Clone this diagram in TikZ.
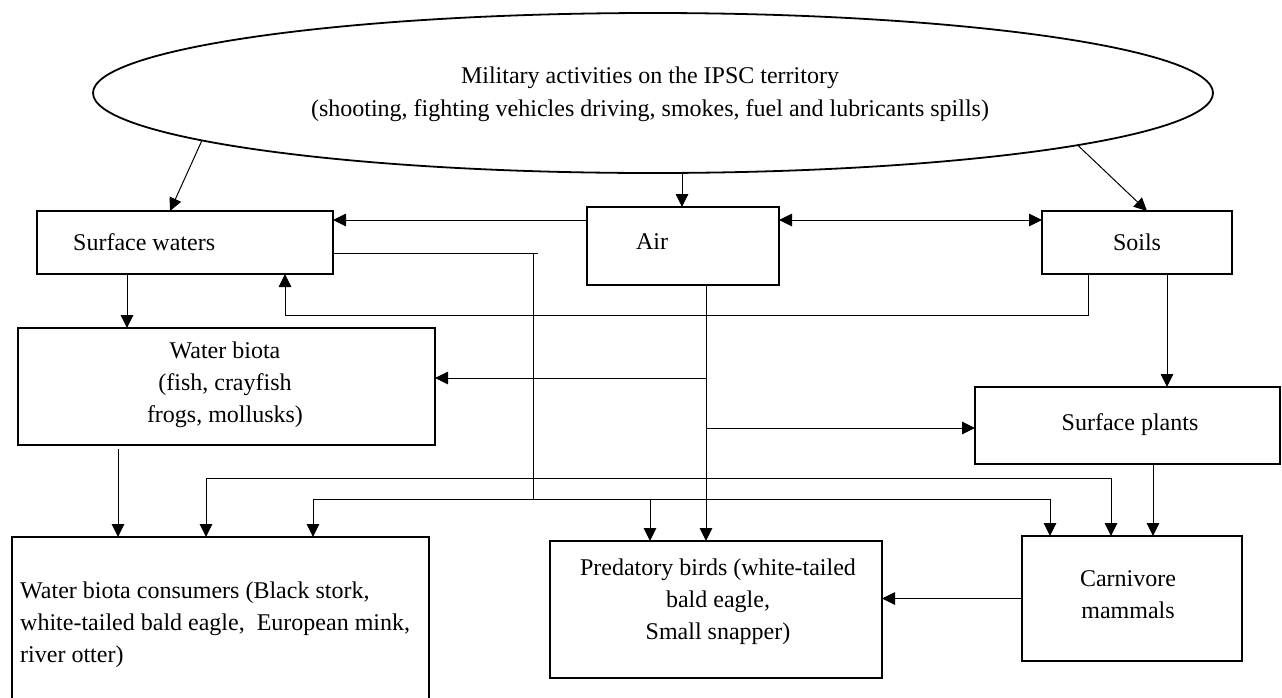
\documentclass[tikz,border=0pt]{standalone}
\usepackage{fontspec}
\setmainfont{Liberation Serif}
\usetikzlibrary{shapes.geometric,arrows.meta}
\begin{document}
\begin{tikzpicture}[x=1pt,y=-1pt,
  box/.style={draw, line width=2.3pt, inner sep=0pt, outer sep=0pt},
  txt/.style={font=\fontsize{24pt}{32pt}\selectfont, inner sep=0pt, align=center},
  conn/.style={line width=1pt, -{Triangle[length=13pt,width=12.5pt]}},
  conntwo/.style={line width=1pt, {Triangle[length=13pt,width=12.5pt]}-{Triangle[length=13pt,width=12.5pt]}},
  plain/.style={line width=1pt}]
\useasboundingbox (0,0) rectangle (1282,697);
\clip (0,0) rectangle (1282,697);
% ellipse
\node[ellipse, draw, line width=1.8pt, minimum width=1120pt, minimum height=160pt, inner sep=0pt, outer sep=0pt] (ell) at (653,93) {};
\node[txt, font=\fontsize{24pt}{33pt}\selectfont] (ellt) at (650,94.5) {Military activities on the IPSC territory\\(shooting, fighting vehicles driving, smokes, fuel and lubricants spills)};
% boxes
\node[box, minimum width=296pt, minimum height=63pt] (sw) at (185,242.5) {};
\node[box, minimum width=192pt, minimum height=78pt] (air) at (683,246) {};
\node[box, minimum width=190pt, minimum height=63pt] (soils) at (1137,242.5) {};
\node[box, minimum width=417pt, minimum height=117pt] (wb) at (226.5,386.5) {};
\node[box, minimum width=305pt, minimum height=77pt] (sp) at (1127.5,425.5) {};
\node[box, minimum width=417pt, minimum height=176pt] (wbc) at (220.5,625) {};
\node[box, minimum width=332pt, minimum height=137pt] (pb) at (716,609.5) {};
\node[box, minimum width=220pt, minimum height=125pt] (carn) at (1132,598.5) {};
% texts
\node[txt, anchor=west] (swt) at (73,242) {Surface waters};
\node[txt] (airt) at (652,242) {Air};
\node[txt] (soilst) at (1137,242) {Soils};
\node[txt] (wbt) at (225,385) {Water biota\\(fish, crayfish\\frogs, mollusks)};
\node[txt] (spt) at (1130,425) {Surface plants};
\node[txt, anchor=west, align=left] (wbct) at (20,625) {Water biota consumers (Black stork,\\white-tailed bald eagle,\ \ European mink,\\river otter)};
\node[txt] (pbt) at (718,602) {Predatory birds (white-tailed\\bald eagle,\\Small snapper)};
\node[txt] (carnt) at (1128,595) {Carnivore\\mammals};
% coordinates
\coordinate (airin) at ([xshift=95pt]air.north west);
\coordinate (a1) at ([yshift=-13pt]air.north west);
\coordinate (a2) at ([yshift=-13pt]air.north east);
\coordinate (s1) at ([xshift=90pt]sw.south west);
\coordinate (so1) at ([xshift=46pt]soils.south west);
\coordinate (so2) at ([xshift=248pt]sw.south west);
\coordinate (so3) at ([xshift=125pt]soils.south west);
\coordinate (s2) at ([yshift=-10.5pt]sw.east);
\coordinate (s2e) at (538,253);
\coordinate (s2v) at (533,253);
\coordinate (j) at (533,499);
\coordinate (av) at ([xshift=119pt]air.south west);
\coordinate (av1) at (706,378);
\coordinate (av2) at (706,428);
\coordinate (w1) at ([xshift=100pt,yshift=-4pt]wb.south west);
\coordinate (b1l) at (206,478);
\coordinate (b1r) at (1111,478);
\coordinate (b2l) at (313,499);
\coordinate (b2r) at (1050,499);
\coordinate (b2m) at (650,499);
\coordinate (sp1) at ([xshift=178pt]sp.south west);
% connectors
\draw[conn] (ell.186.6) -- ([xshift=133pt]sw.north west);
\draw[conn] (airin |- ell.south) -- (airin);
\draw[conn] (ell.353.3) -- ([xshift=105pt]soils.north west);
\draw[conn] (a1) -- (a1 -| sw.east);
\draw[conntwo] (a2) -- (a2 -| soils.west);
\draw[conn] (s1) -- (s1 |- wb.north);
\draw[conn] (so1) -- ++(0,41) -| (so2);
\draw[conn] (so3) -- (so3 |- sp.north);
\draw[plain] (s2) -- (s2e);
\draw[plain] (s2v) -- (j);
\draw[conn] (av) -- (av |- pb.north);
\draw[conn] (av1) -- (av1 -| wb.east);
\draw[conn] (av2) -- (av2 -| sp.west);
\draw[conn] (w1) -- (w1 |- wbc.north);
\draw[conntwo] (b1l |- wbc.north) -- (b1l) -- (b1r) -- (b1r |- carn.north);
\draw[conntwo] (b2l |- wbc.north) -- (b2l) -- (b2r) -- (b2r |- carn.north);
\draw[conn] (b2m) -- (b2m |- pb.north);
\draw[conn] (sp1) -- (sp1 |- carn.north);
\draw[conn] (carn.west) -- (carn.west -| pb.east);
\end{tikzpicture}
\end{document}
